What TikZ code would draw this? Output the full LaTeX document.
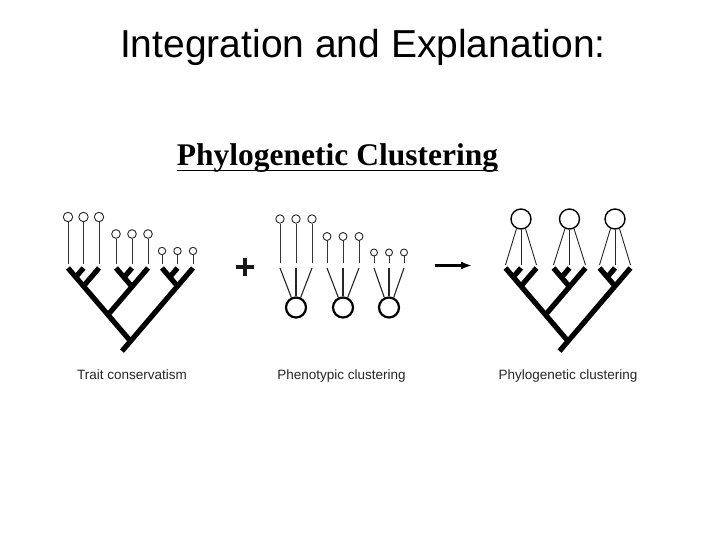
\documentclass[tikz,border=0pt]{standalone}
\usepackage{fontspec}
\setmainfont{Liberation Sans}
\newfontfamily\timesfont{Liberation Serif}
\usetikzlibrary{arrows.meta,calc}
\tikzset{
  branch/.style={line width=5.2pt,black},
  stemline/.style={line width=0.9pt,black!80},
  fanline/.style={line width=1.1pt,black!85},
  tipc/.style={circle,draw=black!85,line width=0.9pt,inner sep=0pt,minimum size=#1},
  bigc/.style={circle,draw=black,line width=#1,inner sep=0pt,minimum size=20pt},
  lbl/.style={inner sep=0pt,anchor=base,font=\fontsize{13.5}{16}\selectfont,text=black!85},
}
% branch from tip #1 to the point where it meets the opposite-sloped line from tip #2
\newcommand\brn[2]{\draw[branch,shorten >=-1.5pt] (#1,268) -- ({(#1+#2)/2},{268+0.585*abs(#2-#1)});}
\newcommand\phylotree{%
  \brn{68}{193}
  \brn{83.5}{68}
  \brn{99}{68}
  \brn{148}{68}
  \brn{116}{148}
  \brn{132}{116}
  \brn{162}{193}
  \brn{177.5}{162}
  \draw[branch] (193,268) -- (122,351.1);
}
\begin{document}
\begin{tikzpicture}[x=1pt,y=-1pt]
\useasboundingbox (0,0) rectangle (720,540);
\fill[white] (0,0) rectangle (720,540);

% titles
\node[inner sep=0pt,anchor=base,font=\fontsize{39}{45}\selectfont] (title) at (363,58) {Integration and Explanation:};
\node[inner sep=0pt,anchor=base,font=\timesfont\bfseries\fontsize{31.5}{36}\selectfont] (sub) at (337.5,166) {Phylogenetic Clustering};
\draw[line width=1.5pt] ([yshift=-4.5pt]sub.base west) -- ([yshift=-4.5pt]sub.base east);

% ---------- left: trait conservatism ----------
\phylotree
\foreach \x/\n in {68/1,83.5/2,99/3}{
  \node[tipc=9.4pt] (la\n) at (\x,217) {};
  \draw[stemline] (la\n.south) -- (\x,264);}
\foreach \x/\n in {116/1,132/2,148/3}{
  \node[tipc=8.6pt] (lb\n) at (\x,234) {};
  \draw[stemline] (lb\n.south) -- (\x,264);}
\foreach \x/\n in {162/1,177.5/2,193/3}{
  \node[tipc=7.4pt] (lc\n) at (\x,251) {};
  \draw[stemline] (lc\n.south) -- (\x,264);}
\node[lbl] (l1) at (132,379) {Trait conservatism};

% plus
\node[inner sep=0pt,minimum size=0pt] (plus) at (245,267) {};
\draw[line width=3.4pt,black!90] ([xshift=-8.7pt]plus.center) -- ([xshift=8.7pt]plus.center);
\draw[line width=3.4pt,black!90] ([yshift=-8.7pt]plus.center) -- ([yshift=8.7pt]plus.center);

% ---------- middle: phenotypic clustering ----------
\node[bigc=2.2pt] (p1) at (296,307.5) {};
\node[bigc=2.2pt] (p2) at (343,307.5) {};
\node[bigc=2.2pt] (p3) at (389,307.5) {};
\foreach \x/\n/\a in {280/1/115,296/2/90,312/3/65}{
  \node[tipc=8.4pt] (ma\n) at (\x,219) {};
  \draw[stemline] (ma\n.south) -- (\x,263);
  \draw[fanline] (\x,268) -- (p1.\a);}
\foreach \x/\n/\a in {327/1/115,343/2/90,359/3/65}{
  \node[tipc=8pt] (mb\n) at (\x,236.5) {};
  \draw[stemline] (mb\n.south) -- (\x,263);
  \draw[fanline] (\x,268) -- (p2.\a);}
\foreach \x/\n/\a in {374/1/115,389/2/90,404/3/65}{
  \node[tipc=7pt] (mc\n) at (\x,252.5) {};
  \draw[stemline] (mc\n.south) -- (\x,263);
  \draw[fanline] (\x,268) -- (p3.\a);}
\node[lbl] (l2) at (341.5,379) {Phenotypic clustering};

% arrow
\coordinate (arA) at (435,265.5);
\coordinate (arB) at (472,265.5);
\draw[line width=3.3pt,-{Latex[length=11pt,width=8pt]}] (arA) -- (arB);

% ---------- right: phylogenetic clustering ----------
\begin{scope}[xshift=437.5pt]
  \phylotree
\end{scope}
\node[bigc=1.4pt] (r1) at (521,219) {};
\node[bigc=1.4pt] (r2) at (569.5,219) {};
\node[bigc=1.4pt] (r3) at (615,219) {};
\foreach \c/\xa/\xb/\xc in {r1/505.5/521/536.5, r2/553.5/569.5/585.5, r3/599.5/615/630.5}{
  \draw[fanline,line width=0.9pt] (\c.-115) -- (\xa,265);
  \draw[fanline,line width=0.9pt] (\c.south) -- (\xb,265);
  \draw[fanline,line width=0.9pt] (\c.-65) -- (\xc,265);}
\node[lbl] (l3) at (568,379) {Phylogenetic clustering};
\end{tikzpicture}
\end{document}
